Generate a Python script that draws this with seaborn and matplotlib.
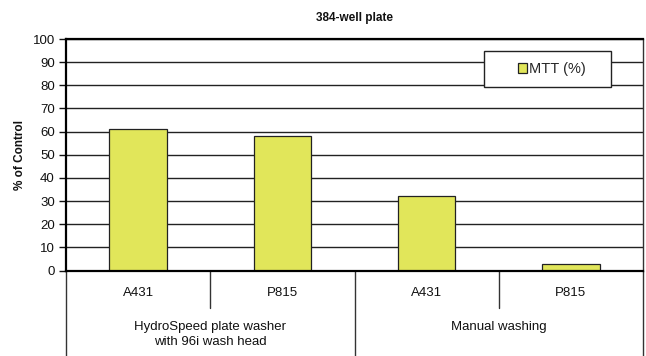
import matplotlib
matplotlib.use("Agg")
import matplotlib.pyplot as plt
import seaborn as sns
import pandas as pd
from matplotlib.patches import Rectangle
from matplotlib.lines import Line2D

# ---- data ----
cell_lines = ["A431", "P815", "A431", "P815"]
groups = ["HydroSpeed plate washer\nwith 96i wash head", "Manual washing"]
group_of_bar = [0, 0, 1, 1]
mtt_values = [61, 58, 32, 3]
series_name = "MTT (%)"
y_ticks = [0, 10, 20, 30, 40, 50, 60, 70, 80, 90, 100]
title = "384-well plate"
y_label = "% of Control"

keys = [f"{g}|{c}|{i}" for i, (g, c) in enumerate(zip(group_of_bar, cell_lines))]
df = pd.DataFrame({"key": keys, "value": mtt_values})

sns.set_theme(style="white")
plt.rcParams["font.family"] = ["Liberation Sans", "DejaVu Sans"]

fig = plt.figure(figsize=(6.46, 3.56), dpi=100)
ax = fig.add_axes([66 / 646, 1 - 270.5 / 356, 577 / 646, 231.5 / 356])

bar_color = "#E1E65A"
sns.barplot(data=df, x="key", y="value", color=bar_color, width=0.4,
            edgecolor="#222222", linewidth=0.9, ax=ax, saturation=1)

ax.set_xlim(-0.5, 3.5)
ax.set_ylim(0, 100)
ax.set_yticks(y_ticks)
ax.set_yticklabels([str(t) for t in y_ticks], fontsize=9.5, color="#111111")
ax.yaxis.grid(True, color="#222222", linewidth=1.0)
ax.set_axisbelow(True)
ax.tick_params(axis="y", direction="out", length=5, width=1, color="#111111", left=True, pad=3)
ax.tick_params(axis="x", bottom=False, labelbottom=False)
ax.set_xlabel("")
ax.set_ylabel(y_label, fontsize=8.5, fontweight="bold", labelpad=5, color="#111111")
ax.set_title(title, fontsize=8.5, fontweight="bold", pad=13, color="#111111")

for side in ["left", "top", "bottom"]:
    ax.spines[side].set_visible(True)
    ax.spines[side].set_color("#000000")
    ax.spines[side].set_linewidth(1.6)
ax.spines["right"].set_visible(True)
ax.spines["right"].set_color("#333333")
ax.spines["right"].set_linewidth(1.0)

# ---- multi-level category axis below ----
tr = ax.get_xaxis_transform()
def yfrac(ypix):
    return (270.5 - ypix) / 231.5

line_kw = dict(transform=tr, color="#333333", linewidth=1.0, clip_on=False)
for xb in [-0.5, 1.5, 3.5]:
    ax.add_line(Line2D([xb, xb], [0, yfrac(358)], **line_kw))
for xb in [0.5, 2.5]:
    ax.add_line(Line2D([xb, xb], [0, yfrac(308)], **line_kw))

for i, c in enumerate(cell_lines):
    ax.text(i, yfrac(293), c, transform=tr, ha="center", va="center",
            fontsize=9.5, color="#111111")
for gi, g in enumerate(groups):
    idx = [i for i, gb in enumerate(group_of_bar) if gb == gi]
    xc = sum(idx) / len(idx)
    n_lines = g.count("\n") + 1
    yc = 327 + (n_lines - 1) * 7.5
    ax.text(xc, yfrac(yc), g, transform=tr, ha="center", va="center",
            fontsize=9.5, color="#111111", linespacing=1.4)

# ---- legend ----
box = Rectangle(((484 - 66) / 577, yfrac(87)), (611 - 484) / 577, (87 - 51) / 231.5,
                transform=ax.transAxes, facecolor="white", edgecolor="#222222",
                linewidth=1.0, zorder=5, clip_on=False)
ax.add_patch(box)
handle = Rectangle((0, 0), 1, 1, facecolor=bar_color, edgecolor="#222222", linewidth=0.9)
leg = ax.legend([handle], [series_name], loc="center",
                bbox_to_anchor=((552 - 66) / 577, yfrac(69)), frameon=False,
                fontsize=10.5, handlelength=0.65, handleheight=0.65, handletextpad=0.15,
                borderpad=0)
leg.set_zorder(6)

fig.savefig("out.png", dpi=100)
